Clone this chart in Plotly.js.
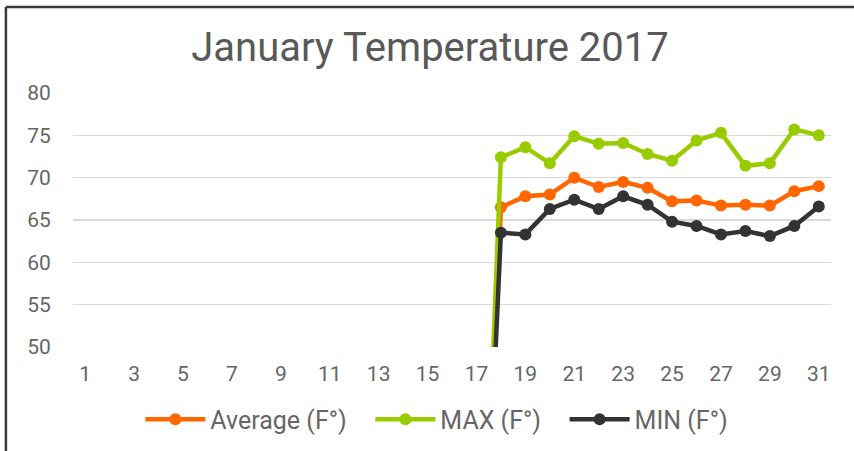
<!DOCTYPE html>
<html>
<head>
<meta charset="utf-8">
<script src="https://cdn.plot.ly/plotly-3.0.1.min.js"></script>
<style>
html,body{margin:0;padding:0;background:#fff;}
#chart{width:854px;height:451px;}
</style>
</head>
<body>
<div id="chart"></div>
<script>
// Days of January
const days = [1,2,3,4,5,6,7,8,9,10,11,12,13,14,15,16,17,18,19,20,21,22,23,24,25,26,27,28,29,30,31];
// Average temperature (F°); days 1-17 recorded as 0 in the source sheet
const avgTemp = [0,0,0,0,0,0,0,0,0,0,0,0,0,0,0,0,0,
  66.5,67.8,68.0,70.0,68.9,69.5,68.8,67.2,67.3,66.7,66.8,66.7,68.4,69.0];
// Maximum temperature (F°)
const maxTemp = [0,0,0,0,0,0,0,0,0,0,0,0,0,0,0,0,0,
  72.4,73.6,71.7,74.9,74.0,74.1,72.8,72.0,74.4,75.3,71.4,71.7,75.7,75.0];
// Minimum temperature (F°)
const minTemp = [0,0,0,0,0,0,0,0,0,0,0,0,0,0,0,0,0,
  63.5,63.3,66.3,67.4,66.3,67.8,66.8,64.8,64.3,63.3,63.7,63.1,64.3,66.6];
const seriesNames = ['Average (F°)','MAX (F°)','MIN (F°)'];
const yTicks = [50,55,60,65,70,75,80];
const xTicks = [1,3,5,7,9,11,13,15,17,19,21,23,25,27,29,31];

const FONT = 'Roboto, "Liberation Sans", sans-serif';
const colors = ['#FF6600','#99CC00','#333333'];
const series = [avgTemp, maxTemp, minTemp];
const PAD = '\u00a0\u00a0\u00a0';

const traces = series.map((vals, i) => ({
  type: 'scatter',
  mode: 'lines+markers',
  x: days,
  y: vals,
  name: seriesNames[i] + (i < series.length - 1 ? PAD : ''),
  line: {color: colors[i], width: 4.5},
  marker: {color: colors[i], size: 12},
  cliponaxis: true,
  hoverinfo: 'skip'
}));

const layout = {
  width: 854,
  height: 451,
  margin: {l: 73, r: 23, t: 93, b: 104, autoexpand: false},
  paper_bgcolor: '#ffffff',
  plot_bgcolor: '#ffffff',
  showlegend: true,
  title: {
    text: 'January Temperature 2017',
    font: {family: FONT, size: 40, color: '#595959'},
    x: 0.5035, xanchor: 'center',
    y: 0.896, yanchor: 'middle'
  },
  xaxis: {
    type: 'linear',
    range: [0.5, 31.5],
    tickvals: xTicks,
    ticktext: xTicks.map(String),
    showgrid: false,
    zeroline: false,
    showline: false,
    ticks: 'outside',
    ticklen: 8,
    tickcolor: 'rgba(0,0,0,0)',
    tickfont: {family: FONT, size: 21, color: '#666666'},
    fixedrange: true
  },
  yaxis: {
    range: [50, 80],
    tickvals: yTicks,
    ticktext: yTicks.map(String),
    showgrid: true,
    gridcolor: '#D9D9D9',
    gridwidth: 1.5,
    zeroline: false,
    showline: false,
    ticks: 'outside',
    ticklen: 17,
    tickcolor: 'rgba(0,0,0,0)',
    tickfont: {family: FONT, size: 21, color: '#666666'},
    fixedrange: true
  },
  legend: {
    orientation: 'h',
    x: 0.480, xanchor: 'center',
    y: -0.285, yanchor: 'middle',
    font: {family: FONT, size: 25, color: '#666666'},
    itemwidth: 60,
    bgcolor: 'rgba(0,0,0,0)'
  },
  shapes: [
    {type: 'line', xref: 'paper', yref: 'paper',
     x0: -0.0885, x1: 1.2, y0: 1.3386, y1: 1.3386,
     line: {color: '#3a3a3a', width: 2.5}},
    {type: 'line', xref: 'paper', yref: 'paper',
     x0: -0.0885, x1: -0.0885, y0: 1.3386, y1: -0.5,
     line: {color: '#3a3a3a', width: 2.5}}
  ]
};

Plotly.newPlot('chart', traces, layout, {staticPlot: true, displayModeBar: false});
</script>
</body>
</html>
